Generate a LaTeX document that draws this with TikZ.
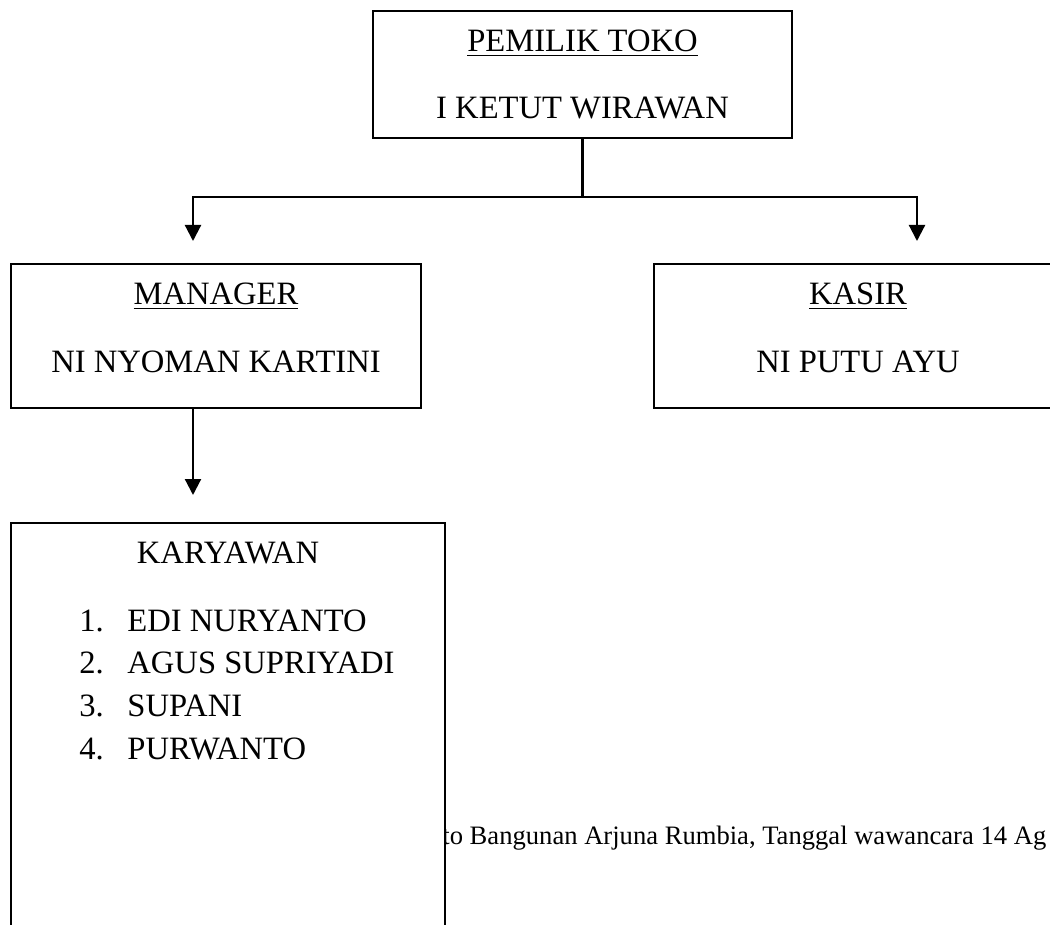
\documentclass[tikz,border=0pt]{standalone}
\usepackage{fontspec}
\setmainfont{Liberation Serif}
\usepackage{tikz}
\usetikzlibrary{arrows.meta,positioning,calc}

\begin{document}
\begin{tikzpicture}[
    x=0.5pt, y=-0.5pt,
    orgbox/.style={draw=black, line width=1pt, fill=white, inner sep=0pt},
    lbl/.style={anchor=base, inner sep=0pt, font=\fontsize{16.3}{20}\selectfont},
    note/.style={anchor=base west, inner sep=0pt, font=\fontsize{13.3}{16}\selectfont},
    arrow/.style={-{Triangle[length=8pt,width=8pt]}, line width=1.1pt, draw=black}
  ]
    \useasboundingbox (0,0) rectangle (1050,925);
    \clip (0,0) rectangle (1050,925);
    \node[note] (src) at (442,844) {to Bangunan Arjuna Rumbia, Tanggal wawancara 14 Ag};
    \node[orgbox, minimum width=209.5pt, minimum height=63.5pt] (top) at (582.5,74.5) {};
    \node[orgbox, minimum width=205pt, minimum height=72pt] (mgr) at (216,336) {};
    \node[orgbox, minimum width=204pt, minimum height=72pt, right=115.5pt of mgr] (ksr) {};
    \node[orgbox, minimum width=217pt, minimum height=219.5pt, below=56.5pt of mgr.south west, anchor=north west] (kry) {};
    \foreach \b/\ttl/\nm in {top/PEMILIK TOKO/I KETUT WIRAWAN, mgr/MANAGER/NI NYOMAN KARTINI, ksr/KASIR/NI PUTU AYU} {
      \node[lbl] (\b-ttl) at ($(\b.north)+(0,42)$) {\underline{\ttl}};
      \node[lbl] (\b-nm) at ($(\b.north)+(0,109)$) {\nm};
    }
    \node[lbl] (kry-ttl) at ($(kry.north)+(0,41)$) {KARYAWAN};
    \foreach \i/\nm in {1/EDI NURYANTO, 2/AGUS SUPRIYADI, 3/SUPANI, 4/PURWANTO} {
      \node[lbl, anchor=base west] (num\i) at ($(kry.north west)+(69,{109+42.7*(\i-1)})$) {\i.};
      \node[lbl, anchor=base west] (emp\i) at ($(kry.north west)+(117,{109+42.7*(\i-1)})$) {\nm};
    }
    % connectors
    \coordinate (jn) at ($(top.south)+(0,58)$);
    \coordinate (mgrin) at (193,241);
    \coordinate (ksrin) at (917,241);
    \coordinate (kryin) at (193,495);
    \draw[line width=1.1pt] (top.south) -- (jn);
    \draw[arrow] (jn) -| (mgrin);
    \draw[arrow] (jn) -| (ksrin);
    \draw[arrow] (mgr.south -| mgrin) -- (kryin);
  \end{tikzpicture}
\end{document}
